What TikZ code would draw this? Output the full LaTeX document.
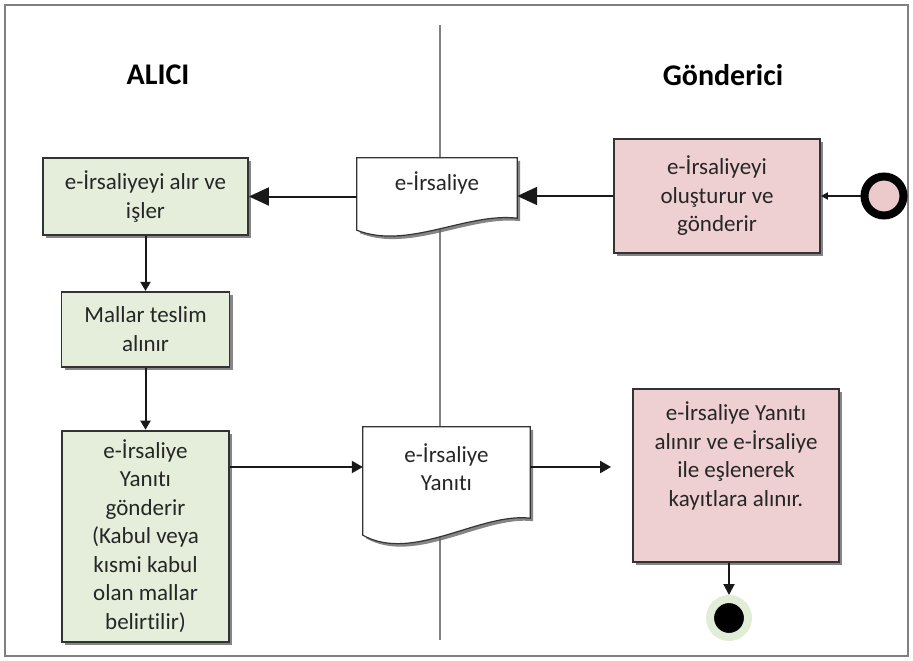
\documentclass[tikz,border=0pt]{standalone}
\usepackage{fontspec}
\setmainfont{Carlito}[Ligatures=NoCommon]
\usetikzlibrary{positioning,arrows.meta,shadows,calc}
\pgfdeclarelayer{background}
\pgfsetlayers{background,main}
\definecolor{boxgreen}{RGB}{229,238,218}
\definecolor{boxpink}{RGB}{238,207,210}
\definecolor{startpink}{RGB}{236,201,203}
\definecolor{halo}{RGB}{226,237,215}
\definecolor{framegray}{RGB}{128,128,128}
\definecolor{inkgray}{RGB}{51,51,51}
\begin{document}
\begin{tikzpicture}[x=1pt, y=-1pt, node distance={55pt},
  font=\fontsize{23pt}{28.5pt}\selectfont,
  box/.style = {draw=inkgray, line width=1.8pt, align=center, text=black!85, inner sep=0pt,
    drop shadow={shadow xshift=3pt, shadow yshift=-3pt, fill=black!60, opacity=.8}},
  gbox/.style = {box, fill=boxgreen},
  pbox/.style = {box, fill=boxpink},
  doc/.style = {align=center, text=black!85, inner sep=0pt},
  docline/.style = {draw=inkgray, line width=1.2pt, fill=white,
    drop shadow={shadow xshift=3pt, shadow yshift=-3pt, fill=black!60, opacity=.8}},
  head/.style = {font=\fontsize{30pt}{36pt}\selectfont\bfseries},
  flow/.style = {line width=2pt, draw=black!90}]
\useasboundingbox (0,0) rectangle (913,661);

\node[head] (10) at (158,75) {ALICI};
\node[head] (11) at (723,75) {Gönderici};

\node[circle, draw=black, line width=8pt, fill=startpink, minimum size=39pt, inner sep=0pt] (1) at (884,196) {};
\node[pbox, minimum width=206pt, minimum height=114pt] (2) at (717,196) {e-İrsaliyeyi\\oluşturur ve\\gönderir};
\node[doc, minimum width=160pt, minimum height=50pt] (3) at (437,183) {e-İrsaliye};
\node[gbox, minimum width=205pt, minimum height=77pt] (4) at (145.5,196.5) {e-İrsaliyeyi alır ve\\işler};
\node[gbox, minimum width=168pt, minimum height=75pt] (5) [below=55pt of 4] {Mallar teslim\\alınır};
\node[gbox, minimum width=167pt, minimum height=211pt] (6) [below=62pt of 5] {e-İrsaliye\\Yanıtı\\gönderir\\(Kabul veya\\kısmi kabul\\olan mallar\\belirtilir)};
\node[doc, minimum width=167pt, minimum height=80pt] (7) at (446.5,467) {e-İrsaliye\\Yanıtı};
\node[pbox, minimum width=206pt, minimum height=173pt] (8) at (736,475.5) {e-İrsaliye Yanıtı\\alınır ve e-İrsaliye\\ile eşlenerek\\kayıtlara alınır.\\[14pt]\mbox{}};
\node[circle, fill=black, draw=halo, line width=8pt, minimum size=38pt, inner sep=0pt] (9) at (729,618) {};

% frame, lane line and the two documents
\begin{pgfonlayer}{background}
\draw[framegray, line width=2.5pt] (5,5) rectangle (908,656);
\draw[framegray, line width=1.5pt] (440,25) -- (440,640);
\foreach \d/\r/\l/\w in {3/10/22/42, 7/11/28/56}
  \path[docline] (\d.north west) -- (\d.north east) -- ($(\d.south east)+(0,\r)$)
    .. controls ($(\d.south east)+(-50,\r-6)$) and ($(\d.south west)+(50,\w)$)
    .. ($(\d.south west)+(0,\l)$) -- cycle;
\end{pgfonlayer}

\draw[flow, -{Triangle[length=7pt,width=7pt]}] (1) -- (2);
\draw[flow, -{Triangle[length=20pt,width=18pt]}] (2.west) -- (3.east |- 2.west);
\draw[flow, -{Triangle[length=20pt,width=18pt]}] (3.west |- 4.east) -- (4.east);
\draw[flow, -{Triangle[length=9pt,width=10pt]}] (4) -- (5);
\draw[flow, -{Triangle[length=9pt,width=10pt]}] (5) -- (6);
\draw[flow, -{Triangle[length=11pt,width=12pt]}] (6.east |- 7.west) -- (7.west);
\draw[flow, shorten >=21pt, -{Triangle[length=11pt,width=12pt]}] (7.east) -- (8.west |- 7.east);
\draw[flow, -{Triangle[length=11pt,width=11pt]}] (8.south -| 9) -- (9);

\end{tikzpicture}
\end{document}
